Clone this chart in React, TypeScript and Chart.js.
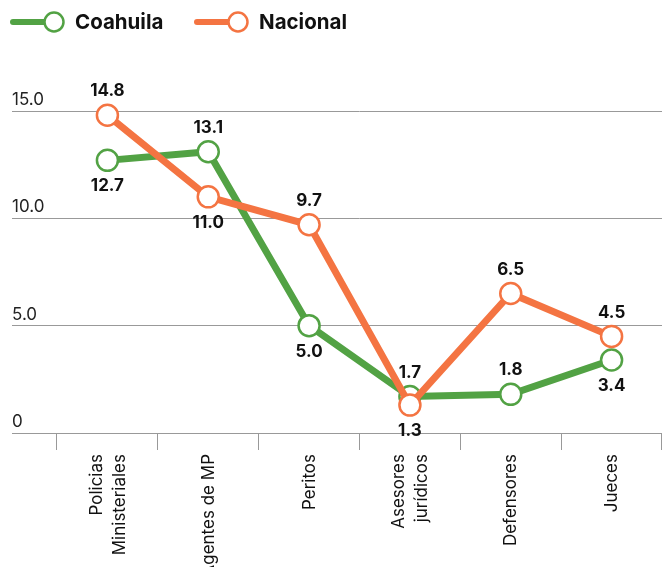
import React, { useEffect, useRef } from "react";
import { Chart, registerables } from "chart.js";

Chart.register(...registerables);

const categories: (string | string[])[] = [
  ["Policias", "Ministeriales"],
  "Agentes de MP",
  "Peritos",
  ["Asesores", "jurídicos"],
  "Defensores",
  "Jueces",
];
const coahuila = [12.7, 13.1, 5.0, 1.7, 1.8, 3.4];
const nacional = [14.8, 11.0, 9.7, 1.3, 6.5, 4.5];
const coahuilaLabelPos = ["below", "above", "below", "above", "above", "below"];
const nacionalLabelPos = ["above", "below", "above", "below", "above", "above"];
const yTicks = [0, 5, 10, 15];

const GREEN = "#52a244";
const ORANGE = "#f47442";
const FONT = "Inter, 'Noto Sans', sans-serif";

export default function App() {
  const ref = useRef<HTMLCanvasElement | null>(null);

  useEffect(() => {
    if (!ref.current) return;

    const labelPlugin = {
      id: "valueLabels",
      afterDatasetsDraw(chart: any) {
        const ctx = chart.ctx;
        ctx.save();
        ctx.font = `bold 17px ${FONT}`;
        ctx.fillStyle = "#111";
        ctx.textAlign = "center";
        ctx.textBaseline = "middle";
        chart.data.datasets.forEach((ds: any, di: number) => {
          const meta = chart.getDatasetMeta(di);
          const pos: string[] = ds.labelPos;
          meta.data.forEach((pt: any, i: number) => {
            const v = ds.data[i] as number;
            const dy = pos[i] === "above" ? -24 : 26;
            ctx.fillText(v.toFixed(1), pt.x, pt.y + dy);
          });
        });
        ctx.restore();
      },
    };

    const xLabelPlugin = {
      id: "xLabels",
      afterDraw(chart: any) {
        const ctx = chart.ctx;
        const xs = chart.scales.x;
        const top = xs.top + 17 + 4;
        const lh = 23;
        ctx.save();
        ctx.font = `17px ${FONT}`;
        ctx.fillStyle = "#111";
        ctx.textAlign = "right";
        ctx.textBaseline = "middle";
        categories.forEach((cat, i) => {
          const lines = Array.isArray(cat) ? cat : [cat];
          const cx = xs.getPixelForValue(i);
          lines.forEach((ln, j) => {
            const x = cx + (j - (lines.length - 1) / 2) * lh + 0.5;
            ctx.save();
            ctx.translate(x, top);
            ctx.rotate(-Math.PI / 2);
            ctx.fillText(ln, 0, 0);
            ctx.restore();
          });
        });
        ctx.restore();
      },
    };

    const legendPlugin = {
      id: "customLegend",
      afterDraw(chart: any) {
        const ctx = chart.ctx;
        const items = [
          { label: "Coahuila", color: GREEN, x: 13 },
          { label: "Nacional", color: ORANGE, x: 197 },
        ];
        ctx.save();
        const y = 22;
        items.forEach((it) => {
          ctx.strokeStyle = it.color;
          ctx.lineWidth = 6;
          ctx.lineCap = "round";
          ctx.beginPath();
          ctx.moveTo(it.x, y);
          ctx.lineTo(it.x + 32, y);
          ctx.stroke();
          ctx.beginPath();
          ctx.arc(it.x + 41, y, 9.5, 0, Math.PI * 2);
          ctx.fillStyle = "#fff";
          ctx.fill();
          ctx.lineWidth = 2.5;
          ctx.stroke();
          ctx.fillStyle = "#111";
          ctx.font = `bold 20.5px ${FONT}`;
          ctx.textAlign = "left";
          ctx.textBaseline = "middle";
          ctx.fillText(it.label, it.x + 62, y + 1);
        });
        ctx.restore();
      },
    };

    const chart = new Chart(ref.current, {
      type: "line",
      data: {
        labels: categories,
        datasets: [
          {
            label: "Coahuila",
            data: coahuila,
            labelPos: coahuilaLabelPos,
            borderColor: GREEN,
            backgroundColor: "#fff",
            borderWidth: 7,
            pointRadius: 10.5,
            pointBorderWidth: 2.5,
            pointBackgroundColor: "#fff",
            pointBorderColor: GREEN,
            tension: 0,
            order: 1,
            clip: false,
          } as any,
          {
            label: "Nacional",
            data: nacional,
            labelPos: nacionalLabelPos,
            borderColor: ORANGE,
            backgroundColor: "#fff",
            borderWidth: 7,
            pointRadius: 10.5,
            pointBorderWidth: 2.5,
            pointBackgroundColor: "#fff",
            pointBorderColor: ORANGE,
            tension: 0,
            order: 0,
            clip: false,
          } as any,
        ],
      },
      options: {
        animation: false,
        responsive: false,
        maintainAspectRatio: false,
        layout: {
          autoPadding: false,
          padding: { top: 111, left: 12, right: 0, bottom: 0 },
        },
        plugins: {
          legend: { display: false },
          tooltip: { enabled: false },
        },
        scales: {
          x: {
            offset: true,
            grid: {
              offset: true,
              drawOnChartArea: false,
              drawTicks: true,
              tickLength: 17,
              color: "#999",
              lineWidth: 1,
            },
            border: { display: true, color: "#999", width: 1 },
            ticks: { display: false, autoSkip: false },
            afterFit: (scale: any) => {
              scale.height = 134;
              scale.paddingLeft = 0;
              scale.paddingRight = 0;
            },
          },
          y: {
            min: 0,
            max: 15,
            afterBuildTicks: (scale: any) => {
              scale.ticks = yTicks.map((v) => ({ value: v }));
            },
            afterFit: (scale: any) => {
              scale.width = 45;
              scale.paddingTop = 0;
              scale.paddingBottom = 0;
            },
            grid: {
              color: "#999",
              lineWidth: 1,
              drawTicks: true,
              tickLength: 45,
            },
            border: { display: false },
            ticks: {
              crossAlign: "far",
              labelOffset: -11,
              padding: 0,
              color: "#222",
              font: { family: FONT, size: 17 },
              callback: (v: any) => (v === 0 ? "0" : Number(v).toFixed(1)),
            },
          },
        },
      } as any,
      plugins: [labelPlugin, xLabelPlugin, legendPlugin],
    });

    return () => chart.destroy();
  }, []);

  return (
    <div style={{ position: "absolute", left: 0, top: 0, width: 662, height: 567 }}>
      <canvas ref={ref} width={662} height={567} style={{ width: 662, height: 567 }} />
    </div>
  );
}
